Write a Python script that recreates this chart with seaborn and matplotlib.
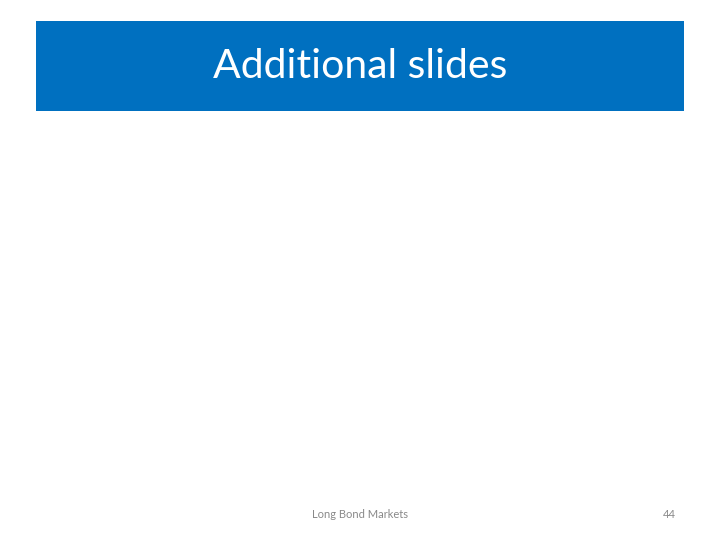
import matplotlib
matplotlib.use("Agg")
import matplotlib.pyplot as plt
import seaborn as sns
from matplotlib.patches import Rectangle

# Slide content
title_text = "Additional slides"
footer_text = "Long Bond Markets"
page_number = "44"
header_color = "#0070C0"
footer_color = "#898989"

sns.set_theme(style="white")
plt.rcParams['font.family'] = ['Lato', 'DejaVu Sans']

fig = plt.figure(figsize=(7.2, 5.4), dpi=100)
fig.patch.set_facecolor("white")

# blue header band (figure coordinates)
fig.patches.append(Rectangle((36 / 720, 1 - 111 / 540), 648 / 720, 90 / 540,
                             transform=fig.transFigure, facecolor=header_color,
                             edgecolor="none", zorder=0))

fig.text(0.5, 1 - 67 / 540, title_text, color="white", fontsize=29.5,
         ha="center", va="center")
fig.text(360 / 720, 1 - 515 / 540, footer_text, color=footer_color, fontsize=8,
         ha="center", va="center")
fig.text(676 / 720, 1 - 515 / 540, page_number, color=footer_color, fontsize=8,
         ha="right", va="center")

fig.savefig("out.png", dpi=100)
